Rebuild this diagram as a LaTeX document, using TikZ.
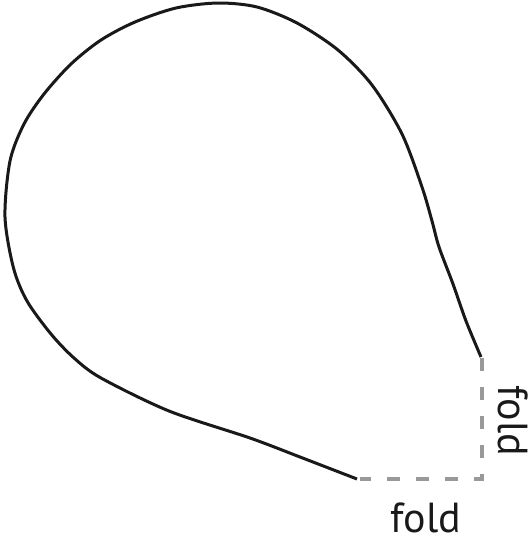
\documentclass[tikz,border=0pt]{standalone}
\usepackage{fontspec}
\setmainfont{PT Sans}
\usetikzlibrary{positioning}

\begin{document}
\begin{tikzpicture}[x=1pt,y=-1pt]
  \tikzstyle{outline}=[line width=3pt,draw=black!90]
  \tikzstyle{fold line}=[line width=3.3pt,draw=gray!80,dash pattern=on 13pt off 16pt]
  \tikzstyle{fold label}=[font=\fontsize{42}{50}\selectfont,text=black!90,inner sep=0pt]
\useasboundingbox (0,0) rectangle (529,539);
\coordinate (tipB) at (357,479);
\coordinate (tipA) at (481,357);
\coordinate (foldtop) at (482,358);
\coordinate (corner) at (482,479);
\coordinate (foldend) at (360,479);
% the outline of the flap
\draw[outline] plot[smooth,tension=0.5] coordinates {(tipB) (300,457) (250,438) (169,411)
  (101,378) (74,358) (51,334) (27,301) (13.5,268) (5,217) (10,161) (24,124) (44,94)
  (71,64) (101,40) (135,22) (176,8) (218,3) (257,7) (297,23) (338,50) (372,85)
  (402,134) (422,187) (432,221) (439,247) (453,284) (466,321) (tipA)};
% fold lines
\draw[fold line] (foldtop) -- (corner) -- (foldend);
\node[fold label,anchor=base] (foldH) at (426,532) {fold};
\node[fold label,anchor=base,rotate=-90] (foldV) at (498,421) {fold};
\end{tikzpicture}
\end{document}
